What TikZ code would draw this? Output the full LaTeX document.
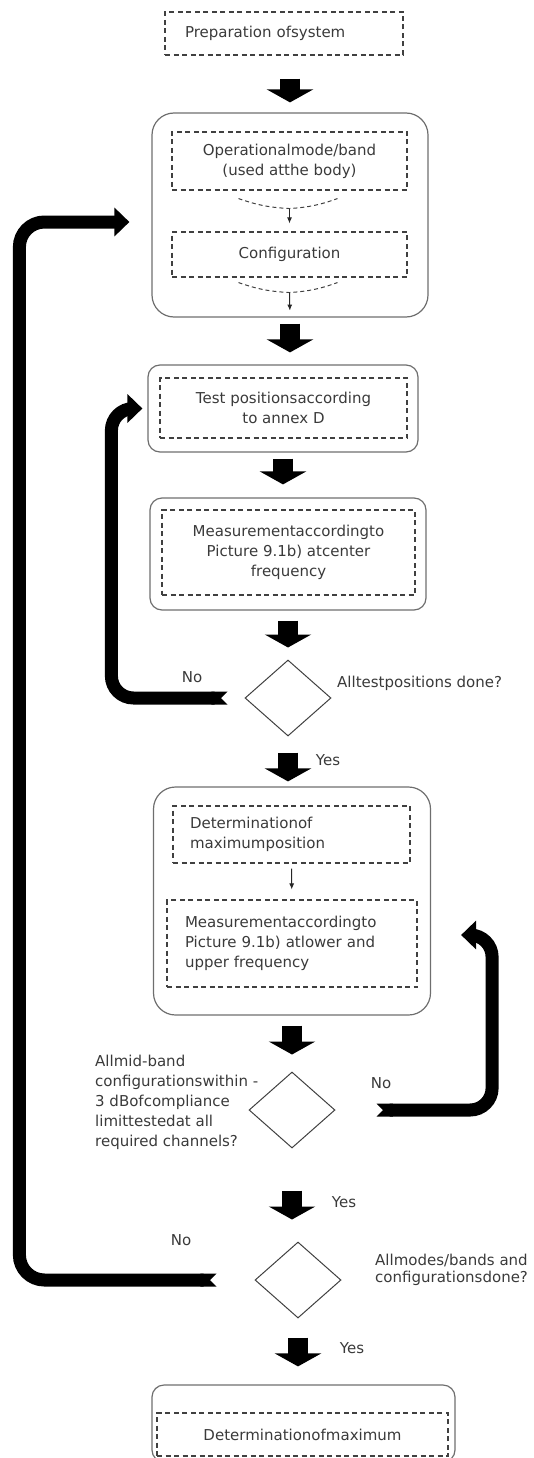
\documentclass[tikz,border=0pt]{standalone}
\usepackage{fontspec}
\setmainfont{DejaVu Sans}
\usetikzlibrary{arrows.meta,positioning,shapes.geometric,calc}
\definecolor{txtgray}{HTML}{3A3A3A}
\definecolor{framegray}{HTML}{6E6E6E}
\definecolor{dashgray}{HTML}{404040}

\begin{document}
\begin{tikzpicture}[x=1pt, y=-1pt,
      font=\fontsize{15}{20}\selectfont, text=txtgray,
      frame/.style={draw=framegray, line width=1.2pt, rounded corners=12pt, inner sep=0pt},
      bigframe/.style={frame, rounded corners=22pt},
      dbox/.style={draw=dashgray, line width=1.1pt, dash pattern=on 5pt off 3.5pt,
                   align=center, inner sep=0pt},
      dia/.style={diamond, draw=black!75, line width=1pt, aspect=1.13,
                  minimum width=86pt, minimum height=76pt, inner sep=0pt},
      lbl/.style={inner sep=0pt},
      bigarr/.style={line width=20pt, -{Triangle[width=46pt,length=13pt]}},
      backarr/.style={line width=13pt, rounded corners=22pt,
                      {Triangle Cap[reversed]}-{Triangle[width=28pt,length=15pt]}},
      dlink/.style={draw=dashgray, line width=1pt, dash pattern=on 4pt off 3pt},
      thinarr/.style={draw=black!85, line width=1pt, -{Latex[length=6pt,width=5pt]}}]
    \useasboundingbox (0,0) rectangle (534,1458);

    % start
    \node[dbox, align=left, text width=198pt, inner xsep=20pt, minimum height=43pt]
      (prep) at (284,33.5) {Preparation ofsystem};

    % mode / band and configuration
    \node[bigframe, minimum width=276pt, minimum height=204pt] (grp1) at (290,215) {};
    \node[dbox, minimum width=235pt, minimum height=58pt] (op) at (289.5,161)
      {Operationalmode/band\\(used atthe body)};
    \node[dbox, minimum width=235pt, minimum height=45pt] (cfg) at (289.5,254.5)
      {Configuration};
    \coordinate (m1) at ($(op.south)+(0,18)$);
    \draw[dlink] ($(op.south)+(-51,8)$) to[bend right=8] (m1) to[bend right=8] ($(op.south)+(48,8)$);
    \draw[thinarr, shorten >=8pt] (m1) -- (cfg.north);
    \coordinate (m2) at ($(cfg.south)+(0,15)$);
    \draw[dlink] ($(cfg.south)+(-51,5)$) to[bend right=8] (m2) to[bend right=8] ($(cfg.south)+(48,5)$);
    \draw[thinarr, shorten >=7pt] (m2) -- (grp1.south);

    % test positions
    \node[frame, minimum width=270pt, minimum height=87pt] (testo) at (283,408.5) {};
    \node[dbox, minimum width=247pt, minimum height=60pt] (test) at (283.5,408)
      {Test positionsaccording\\to annex D};

    % measurement at center frequency
    \node[frame, minimum width=276pt, minimum height=112pt] (measo) at (288,554) {};
    \node[dbox, minimum width=253pt, minimum height=85pt] (meas) at (288.5,552.5)
      {Measurementaccordingto\\Picture 9.1b) atcenter\\frequency};

    \node[dia] (dia1) at (288,698) {};
    \node[lbl, anchor=west] (q1) at (337,683) {Alltestpositions done?};
    \node[lbl] (no1) at (192,677) {No};
    \node[lbl] (yes1) at (328,760) {Yes};

    % maximum position, lower and upper frequency
    \node[bigframe, minimum width=277pt, minimum height=228pt] (box5) at (292,901) {};
    \node[dbox, align=left, text width=203pt, inner xsep=17pt, minimum height=57pt]
      (detpos) at (291.5,834.5) {Determinationof\\maximumposition};
    \node[dbox, align=left, text width=214pt, inner xsep=18pt, minimum height=87pt]
      (measlu) at (292,943.5) {Measurementaccordingto\\Picture 9.1b) atlower and\\upper frequency};
    \draw[thinarr, shorten <=5pt, shorten >=10pt] (detpos) -- (measlu);

    \node[dia] (dia2) at (292,1110) {};
    \node[lbl, anchor=west, align=left] (q2) at (95,1102.5)
      {Allmid-band\\configurationswithin -\\3 dBofcompliance\\limittestedat all\\required channels?};
    \node[lbl] (no2) at (381,1083) {No};
    \node[lbl] (yes2) at (344,1202) {Yes};

    \node[dia] (dia3) at (298,1280) {};
    \node[lbl, anchor=west, align=left, font=\fontsize{15}{17.5}\selectfont] (q3) at (375,1270)
      {Allmodes/bands and\\configurationsdone?};
    \node[lbl] (no3) at (181,1240) {No};
    \node[lbl] (yes3) at (352,1348) {Yes};

    % end
    \node[frame, minimum width=303pt, minimum height=77pt] (endo) at (303.5,1423.5) {};
    \node[dbox, minimum width=291pt, minimum height=43pt] (fin) at (302.5,1434.5)
      {Determinationofmaximum};

    % main flow
    \draw[bigarr, shorten <=23pt, shorten >=10pt] (grp1.north |- prep.south) -- (grp1.north);
    \draw[bigarr, shorten <=6pt, shorten >=12pt] (grp1.south) -- (grp1.south |- testo.north);
    \draw[bigarr, shorten <=6pt, shorten >=13pt] (testo.south) -- (testo.south |- measo.north);
    \draw[bigarr, shorten <=10pt, shorten >=12pt] (measo.south) -- (dia1.north);
    \draw[bigarr, shorten <=16pt, shorten >=5pt] (dia1.south) -- (dia1.south |- box5.north);
    \draw[bigarr, shorten <=10pt, shorten >=17pt] (box5.south) -- (dia2.north);
    \draw[bigarr, shorten <=42pt, shorten >=22pt] (dia2.south) -- (dia2.south |- dia3.north);
    \draw[bigarr, shorten <=19pt, shorten >=18pt] (dia3.south) -- (dia3.south |- endo.north);

    % loops back
    \draw[backarr] ([xshift=-17pt]dia1.west) -| ($(testo.west)+(-36,0)$) -- ([xshift=-5pt]testo.west);
    \draw[backarr, rounded corners=25pt] ([xshift=-38pt]dia3.west) -| ($(grp1.west)+(-132,7)$)
      -- ($(grp1.west)+(-22,7)$);
    \draw[backarr] ([xshift=41pt]dia2.east) -| ($(box5.east)+(61,34)$) -- ($(box5.east)+(30,34)$);
  \end{tikzpicture}
\end{document}
